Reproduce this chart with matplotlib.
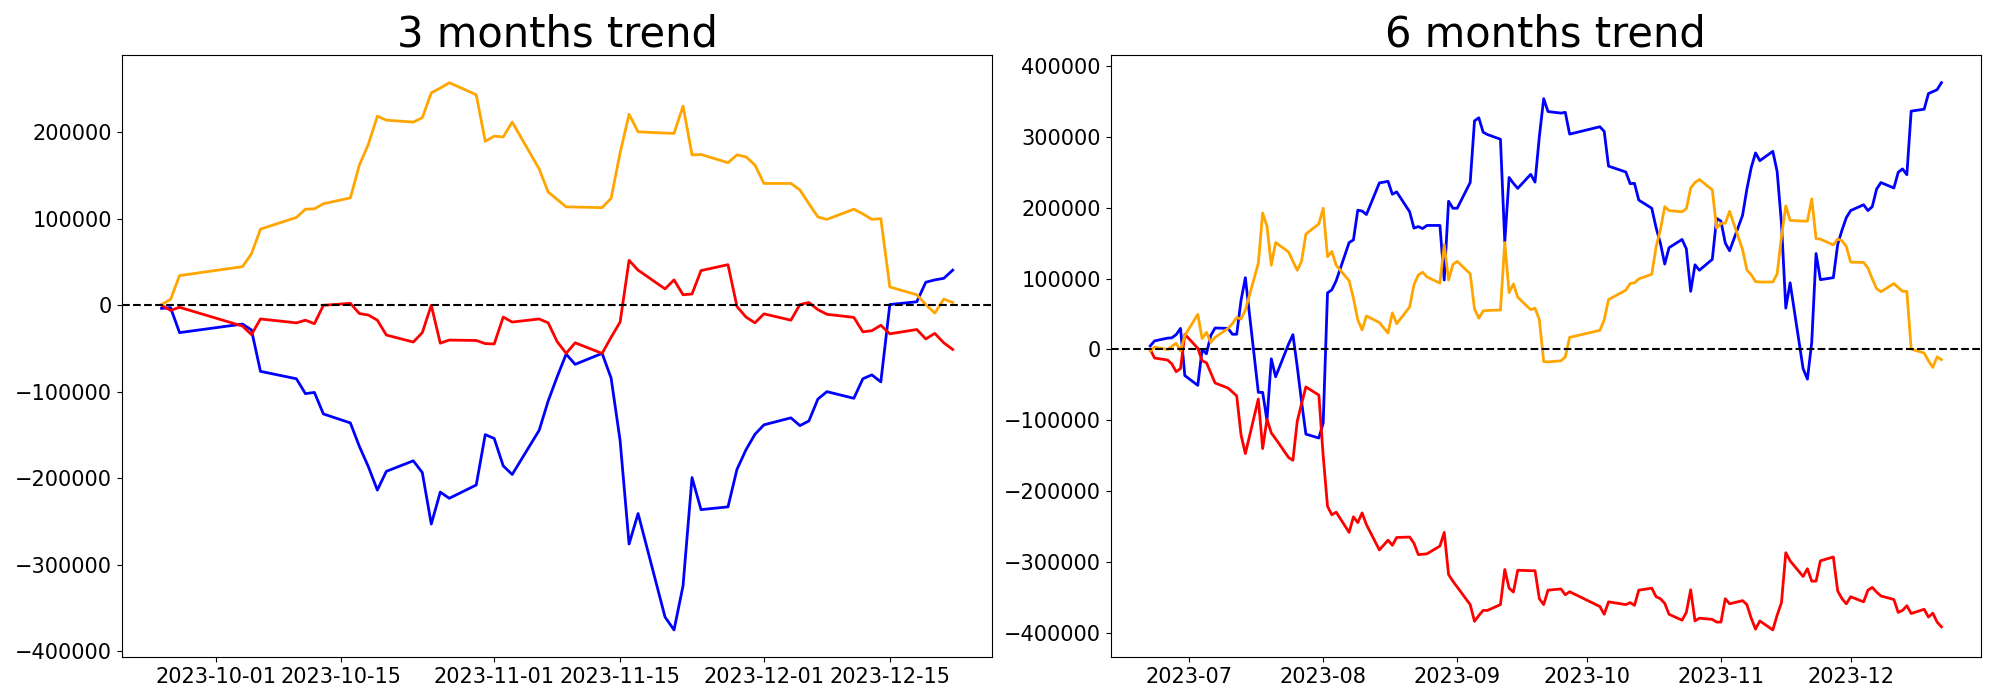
import matplotlib
matplotlib.use("Agg")
import matplotlib.pyplot as plt
import pandas as pd

# KRX trading days (weekends + market holidays removed)
krx_holidays = ["2023-08-15", "2023-09-28", "2023-09-29",
                "2023-10-02", "2023-10-03", "2023-10-09"]
days_6m = pd.bdate_range("2023-06-22", "2023-12-22", freq="C", holidays=krx_holidays)
days_3m = days_6m[days_6m >= "2023-09-25"]

# cumulative net buying, 6 months window
blue_6m = [
    5000, 12100, 16000, 16500, 21000, 29800, -36900,
    -50700, 0, -6100, 19800, 30300, 29800, 21500, 21500, 69400, 101400,
    -60600, -60600, -100300, -13200, -38600, 7700, 20900, -24200, -73800,
    -119600, -125100,
    -104000, 79900, 84300, 97000, 151000, 154800, 196700, 195600, 190600,
    235300, 237500, 219300, 222600, 194500, 171400, 173600, 170800, 175200,
    175200, 98100, 209400, 199500,
    199500, 235800, 322900, 327300, 306900, 303600, 297000, 152100, 243000,
    234700, 227600, 247400, 236400, 300800, 354300, 336100, 333900, 335000,
    304200,
    314600, 308000, 259000, 250700, 234200, 234700, 211000, 199500, 172000,
    150000, 120700, 143800, 155400, 142200, 82100, 119600, 111900, 127300,
    185100,
    181300, 150400, 139400, 189500, 226500, 256800, 277700, 266700, 279900,
    251300, 178000, 58400, 94200, -27000, -41900, 10000, 135500, 98600,
    101400, 148200, 168600, 186200,
    196200, 204400, 196200, 201700, 226500, 235800, 228100, 250200, 255100,
    246800, 336700, 339400, 361500, 364200, 367000, 376900,
]
red_6m = [
    0, -12100, -14900, -20400, -31400, -27000, 21500,
    1700, -16000, -18700, -33000, -47400, -54500, -60000, -65600, -120700,
    -147100, -70000, -140000, -98600, -117900, -126200, -152600, -156500,
    -101400, -76600, -52900, -64500,
    -150000, -221500, -233600, -229800, -258400, -236400, -244600, -230900,
    -247400, -283200, -269400, -276600, -265600, -265000, -273800, -289800,
    -289300, -288700, -277700, -258400, -317900, -327300,
    -335600, -360400, -384000, -375800, -368600, -368600, -360400, -310800,
    -337200, -342700, -311900, -312500, -312500, -352100, -360400, -340000,
    -338300, -346600, -342200,
    -363100, -374100, -356500, -360400, -357600, -361500, -340000, -337200,
    -349300, -352100, -358700, -374100, -382400, -371400, -339400, -383500,
    -379600, -381300, -385100,
    -385100, -352100, -359300, -354800, -360400, -379600, -395100, -383500,
    -396200, -375300, -357700, -287100, -298600, -320700, -309700, -327300,
    -327300, -298600, -293100, -341100, -352100, -359300,
    -349300, -356500, -340000, -336100, -342700, -348200, -353200, -371400,
    -368600, -362000, -373000, -367000, -378000, -372500, -385100, -391800,
]
orange_6m = [
    -2200, 3300, 0, 4400, 8800, -2200, 19800,
    49600, 15400, 24200, 9900, 17100, 29800, 36400, 45200, 43000, 55700,
    121800, 192900, 174100, 119000, 151000, 137800, 124500, 111900, 124500,
    163100, 177400,
    199500, 131100, 138300, 119000, 97000, 72200, 41900, 27600, 47400,
    38000, 23100, 51800, 36400, 60100, 91500, 105200, 109100, 102500,
    93700, 148200, 98100, 120100,
    124500, 106900, 57300, 44100, 54500, 55100, 55700, 151000, 80400,
    92600, 73800, 56200, 58400, 41900, -17100, -17600, -16000, -10500,
    17100,
    27000, 41900, 70500, 83800, 93100, 94200, 99700, 106300, 145000,
    169000, 201700, 196200, 194500, 198900, 228100, 235800, 240200, 225400,
    171400,
    178000, 178500, 195100, 141100, 112400, 105600, 95900, 95300, 95300,
    106900, 159400, 202800, 182400, 181300, 181300, 212700, 156500, 155900,
    147700, 155900, 153700, 145500,
    123400, 122900, 115200, 99700, 86000, 81600, 93100, 87600, 82100,
    82100, 600, -5000, -16000, -25300, -10500, -14300,
]

# cumulative net buying, 3 months window
blue_3m = [
    -3600, -2700, -31600,
    -21700, -28500, -76400,
    -85000, -102200, -100800, -125700,
    -136100, -163200, -186700, -213800, -192100,
    -179900, -193500, -253100, -216100, -223300,
    -207900, -149600, -154100, -185800, -195700,
    -144600, -110700, -82700, -56500, -68300,
    -55600, -84100, -156400, -276200, -240900,
    -360700, -375600, -324500, -199300, -236400,
    -233200, -189800, -167200, -149200, -138300,
    -130200, -139200, -133800, -108500, -99900,
    -107600, -85000, -80500, -88600, 900,
    4100, 26700, 29400, 31200, 40700,
]
red_3m = [
    0, -5900, -2300,
    -24000, -33900, -15800,
    -20300, -17200, -21300, 0,
    2300, -9500, -11300, -17200, -34400,
    -42500, -31600, 0, -43800, -40200,
    -40700, -44300, -44700, -13600, -19400,
    -15800, -20300, -42000, -55600, -43400,
    -55600, -37000, -19400, 52000, 40700,
    19000, 29400, 12200, 13100, 40200,
    47000, -1400, -13600, -20300, -9900,
    -17200, 900, 3200, -5000, -10400,
    -14000, -30700, -29400, -23100, -33000,
    -28000, -38900, -32500, -43400, -51100,
]
orange_3m = [
    900, 6800, 34400,
    44700, 59700, 88100,
    101700, 111200, 111600, 117500,
    124300, 162300, 186200, 218800, 214200,
    212000, 217000, 245900, 251300, 257600,
    243600, 189800, 195700, 194800, 212000,
    157700, 131100, 122500, 113900, 113700,
    113000, 123800, 176300, 221000, 200700,
    199300, 198900, 230500, 174000, 174500,
    165000, 174000, 171800, 162300, 141000,
    141000, 133400, 117500, 102200, 99400,
    111200, 105800, 99400, 100300, 21200,
    12200, 900, -9000, 7200, 3200,
]


def draw_trend(ax, days, blue, red, orange, title):
    ax.plot(days, blue, color="blue", linewidth=2)
    ax.plot(days, red, color="red", linewidth=2)
    ax.plot(days, orange, color="orange", linewidth=2)
    ax.axhline(0, color="black", linestyle="--", linewidth=1.5)
    ax.set_title(title, fontsize=30)
    ax.tick_params(labelsize=15)


fig, axes = plt.subplots(1, 2, figsize=(20, 7))
draw_trend(axes[0], days_3m, blue_3m, red_3m, orange_3m, "3 months trend")
draw_trend(axes[1], days_6m, blue_6m, red_6m, orange_6m, "6 months trend")
fig.subplots_adjust(left=0.061, right=0.9905, bottom=0.061, top=0.921, wspace=0.136)
fig.savefig("out.png", dpi=100)
